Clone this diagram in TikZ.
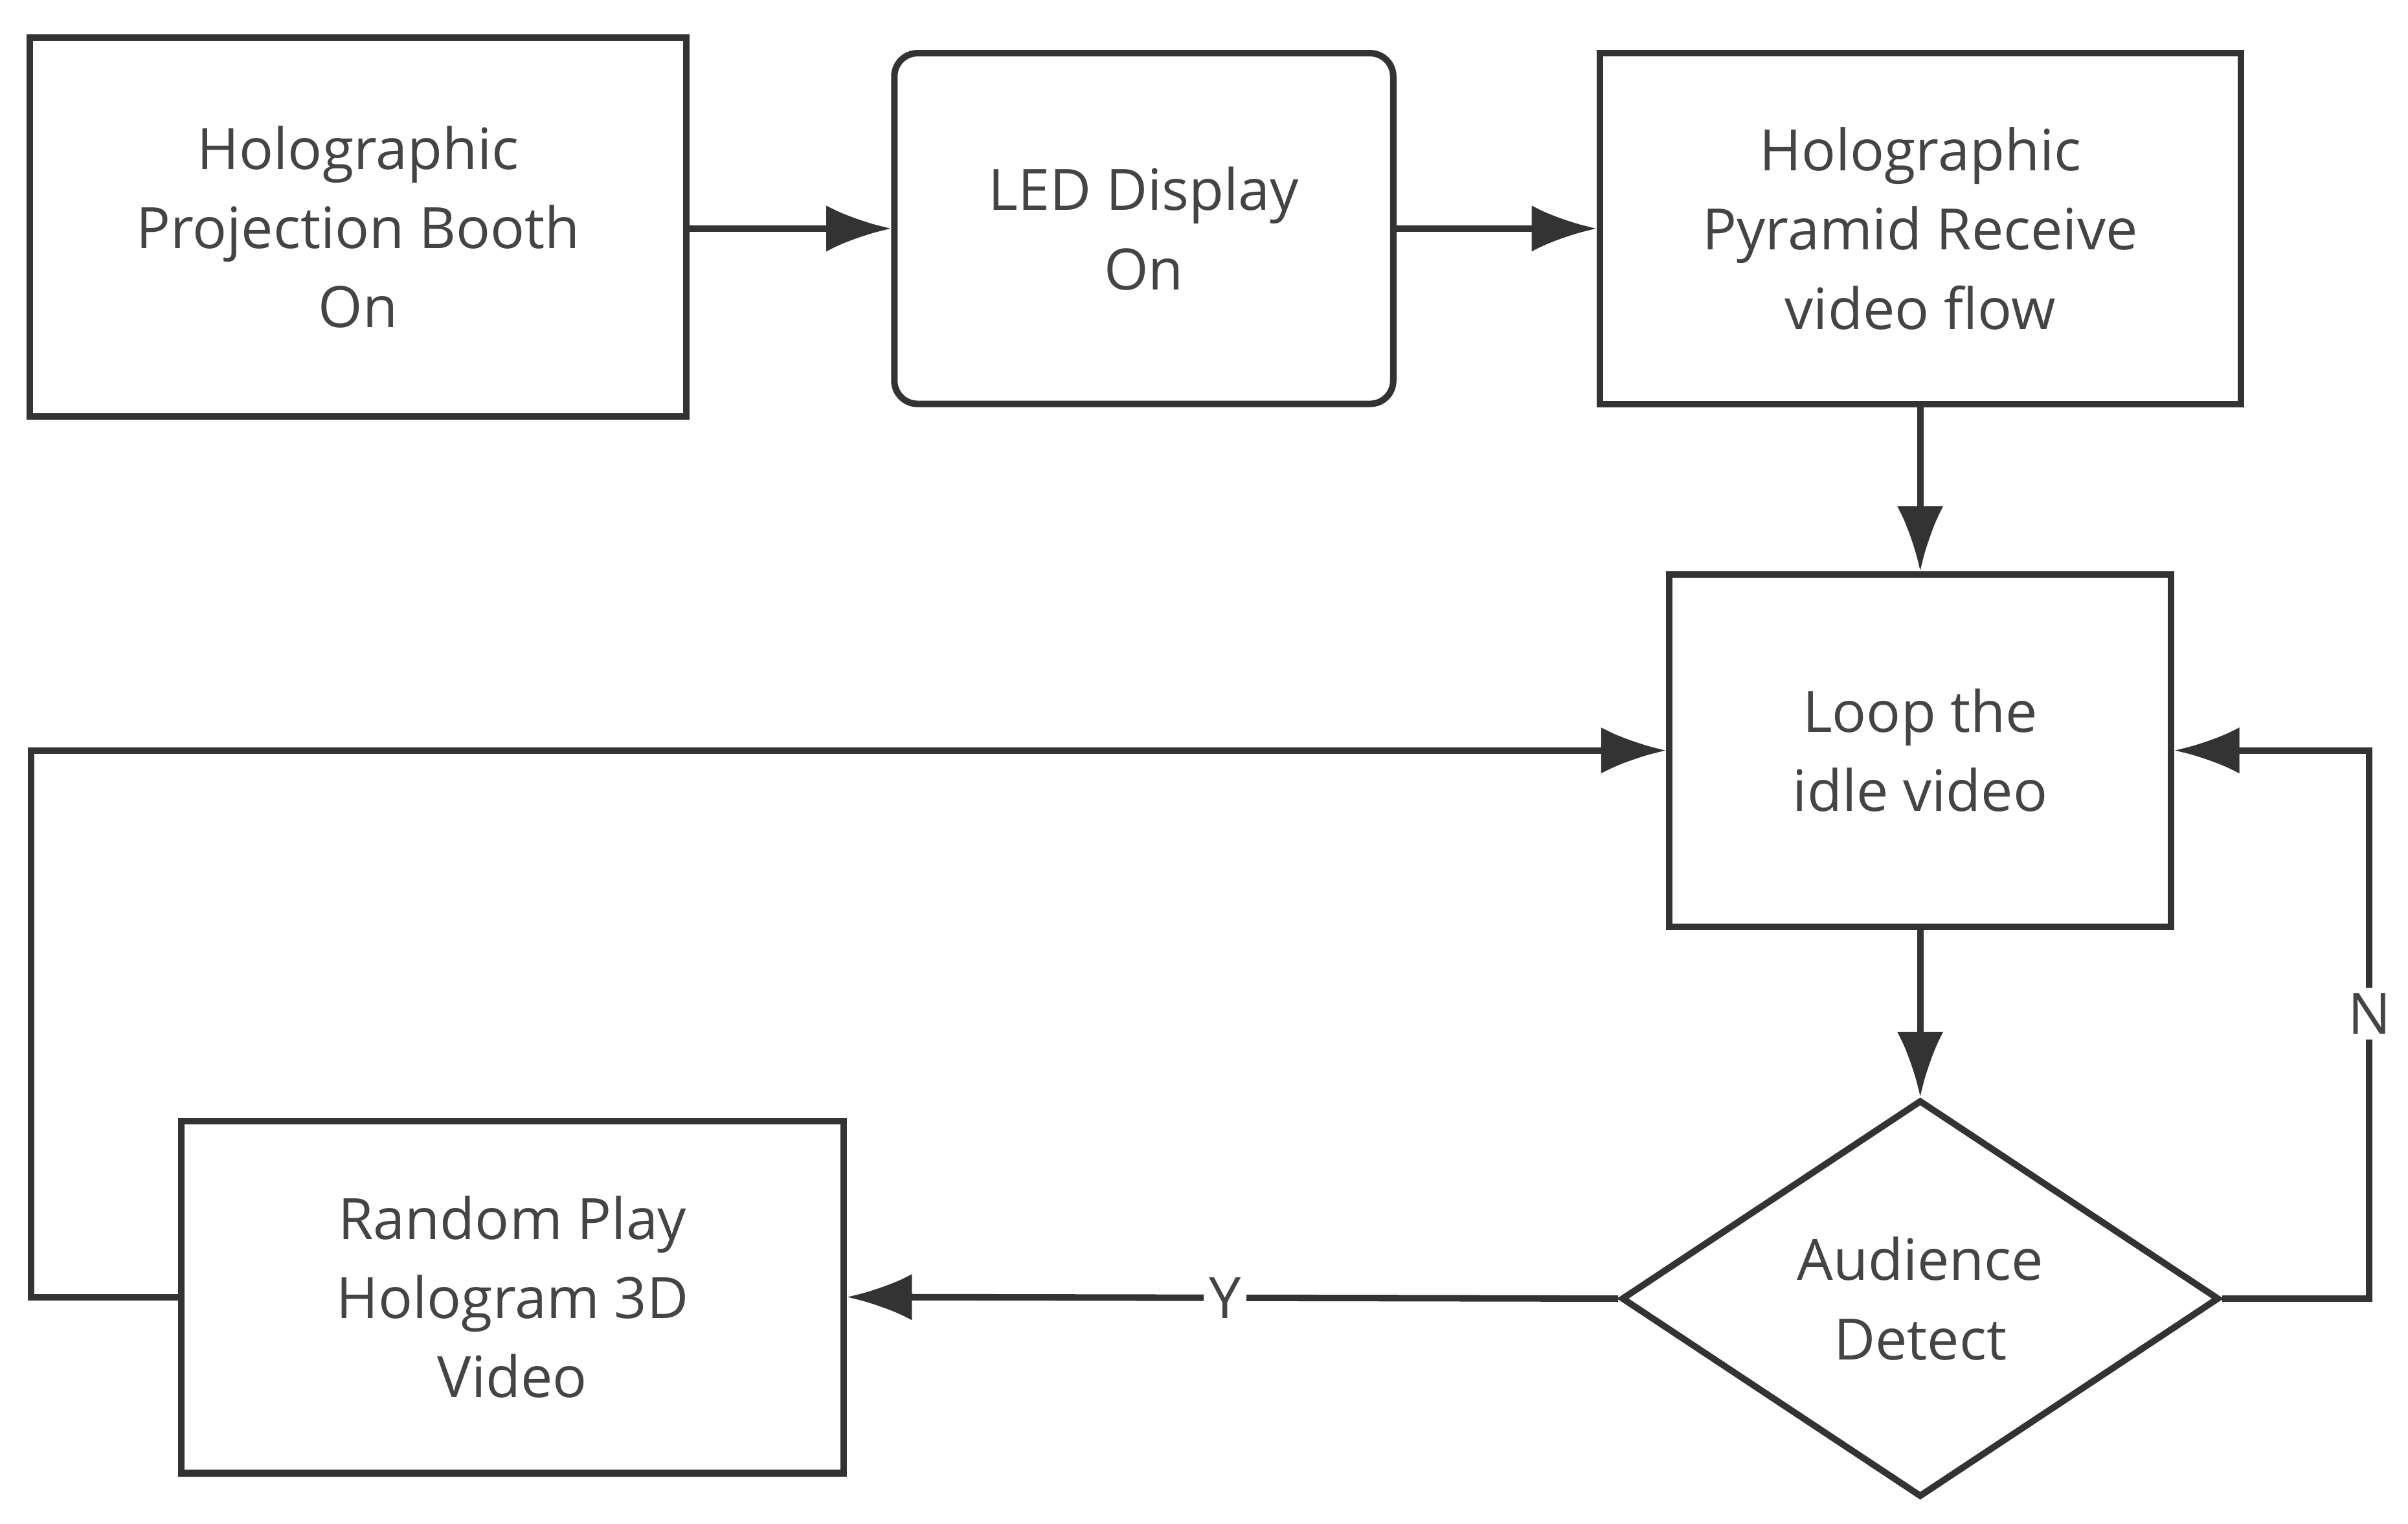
\documentclass[tikz,border=0pt]{standalone}
\usepackage{fontspec}
\setmainfont{Open Sans}
\usetikzlibrary{shapes.geometric,arrows.meta}
\begin{document}
\begin{tikzpicture}[x=0.01cm,y=-0.01cm,
  line width=1.2pt, draw={rgb,255:red,51;green,51;blue,51},
  box/.style={draw, minimum width=#1, align=center, text={rgb,255:red,68;green,68;blue,68},
    font=\fontsize{10.5}{14.6}\selectfont},
  arr/.style={-{Latex[length=0.42cm,width=0.3cm]}},
  lab/.style={fill=white, inner sep=1pt, text={rgb,255:red,68;green,68;blue,68}, font=\fontsize{10.5}{14.6}\selectfont}]
\useasboundingbox (0,0) rectangle (1560,987);
\node[box, minimum width=4.25cm, minimum height=2.45cm] (A) at (232,147) {Holographic\\Projection Booth\\On};
\node[box, rounded corners=0.15cm, minimum width=3.23cm, minimum height=2.27cm] (B) at (741,148) {LED Display\\On};
\node[box, minimum width=4.15cm, minimum height=2.27cm] (C) at (1244,148) {Holographic\\Pyramid Receive\\video flow};
\node[box, minimum width=3.25cm, minimum height=2.28cm] (D) at (1244,486) {Loop the\\idle video};
\node[box, diamond, minimum width=3.87cm, minimum height=2.57cm, inner sep=0pt] (E) at (1244,841) {Audience\\Detect};
\node[box, minimum width=4.29cm, minimum height=2.28cm] (F) at (332,840) {Random Play\\Hologram 3D\\Video};
\coordinate (c1) at (1535,841);
\coordinate (c2) at (1535,486);
\coordinate (c3) at (20,840);
\coordinate (c4) at (20,486);
\draw[arr] (A.east |- B) -- (B.west);
\draw[arr] (B) -- (C);
\draw[arr] (C) -- (D);
\draw[arr] (D) -- (E.north);
\draw[arr] (E.west) -- node[lab, pos=0.51] {Y} (F.east);
\draw[arr] (E.east) -- (c1) -- node[lab, pos=0.52] {N} (c2) -- (D.east);
\draw[arr] (F.west) -- (c3) -- (c4) -- (D.west);
\end{tikzpicture}
\end{document}
